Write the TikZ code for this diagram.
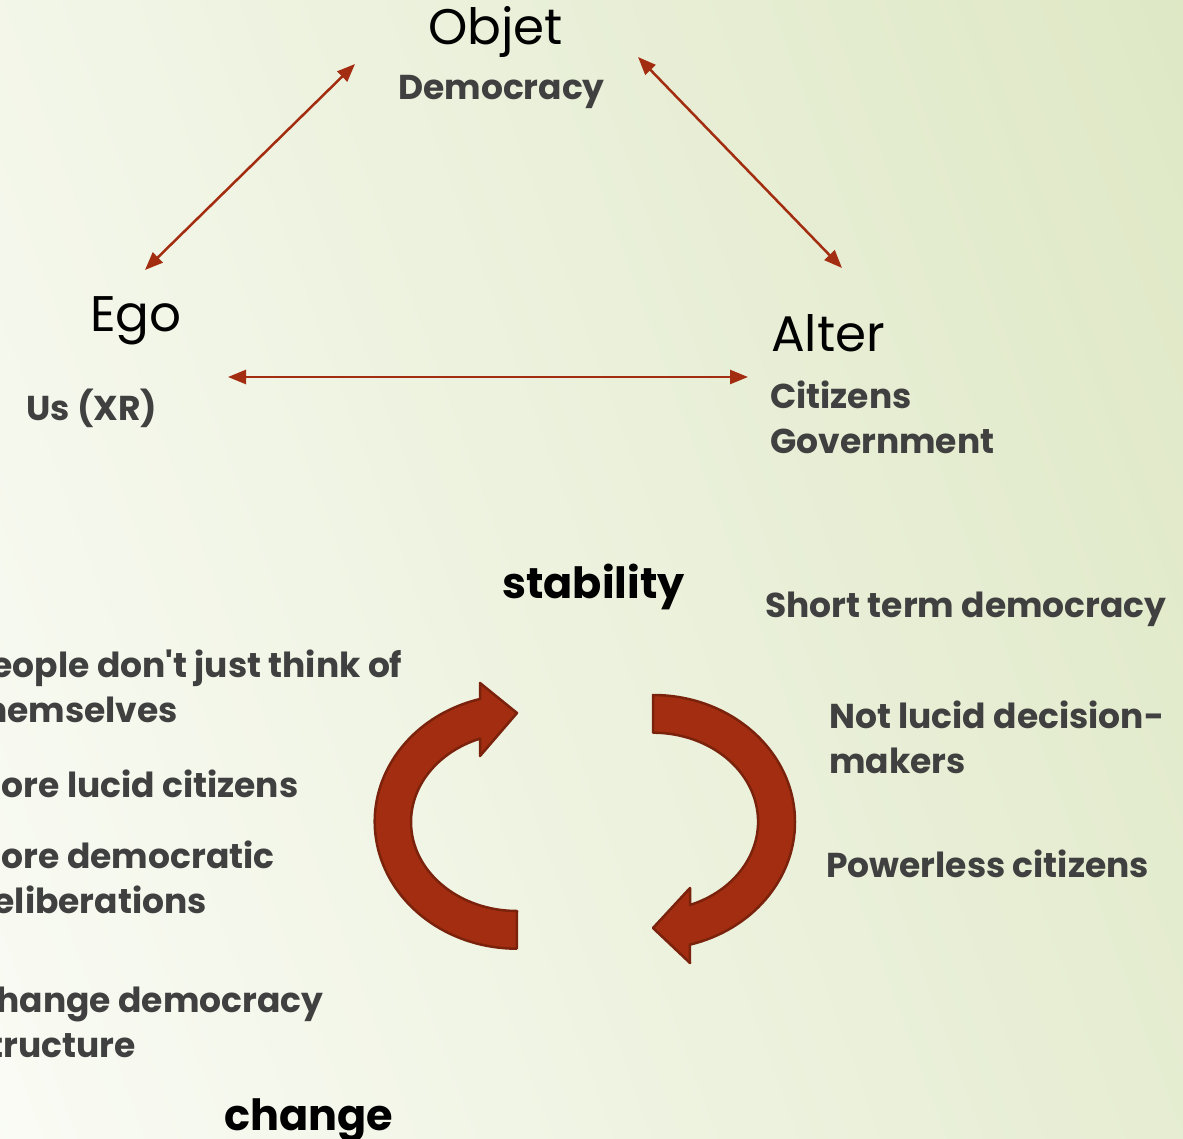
\documentclass[tikz,border=0pt]{standalone}
\usepackage{fontspec}
\setmainfont{Poppins}
\usetikzlibrary{arrows.meta}

\definecolor{rust}{HTML}{A32D10}
\definecolor{rustdark}{HTML}{7A220C}
\definecolor{txtgray}{HTML}{404040}
\definecolor{bgwhite}{HTML}{FCFDF9}
\definecolor{bggreen}{HTML}{DCE6C1}

\tikzset{
	head/.style={font=\fontsize{50}{56}\selectfont, inner sep=0, anchor=base west},
	sub/.style={font=\bfseries\fontsize{34.5}{45}\selectfont, text=txtgray, inner sep=0, anchor=base west, align=left},
	pole/.style={font=\bfseries\fontsize{43}{50}\selectfont, inner sep=0, anchor=base west},
	link/.style={rust, line width=2.5pt, {Triangle[length=18pt,width=14pt]}-{Triangle[length=18pt,width=14pt]}},
	turn/.style={fill=rust, draw=rustdark, line width=2.5pt, line join=round}
}

\begin{document}
\begin{tikzpicture}[x=1pt, y=-1pt]
		\useasboundingbox (0,0) rectangle (1183,1139);
		\clip (0,0) rectangle (1183,1139);
		\shade[left color=bgwhite, right color=bggreen, shading angle=110] (-300,-300) rectangle (1483,1439);
		
		% triangle
		\node[head] (objet) at (428,45) {Objet};
		\node[sub] (democracy) at (398,100) {Democracy};
		\node[head] (ego) at (90,332) {Ego};
		\node[sub] (us) at (26,420) {Us (XR)};
		\node[head] (alter) at (771,352) {Alter};
		\node[sub] (alterwho) at (770,453) {Citizens\\Government};
		
		\coordinate (ego-up) at (145,270);
		\coordinate (objet-left) at (355,64);
		\coordinate (objet-right) at (638,57);
		\coordinate (alter-up) at (842,268);
		\coordinate (ego-right) at (228,377);
		\coordinate (alter-left) at (748,377);
		
		\draw[link] (ego-up) -- (objet-left);
		\draw[link] (objet-right) -- (alter-up);
		\draw[link] (ego-right) -- (alter-left);
		
		% cycle
		\draw[turn] (480,699) arc[start angle=255, end angle=90, x radius=142, y radius=127] -- (517,911)
			arc[start angle=90, end angle=249.6, x radius=106, y radius=89] -- (480,756) -- (517,713) -- (480,683) -- cycle;
		\draw[turn] (653,695) arc[start angle=270, end angle=435, x radius=142, y radius=127] -- (690,963) -- (653,928) -- (690,888) -- (690,905)
			arc[start angle=429.4, end angle=270, x radius=105, y radius=89] -- cycle;
		
		\node[pole] (stability) at (502,598) {stability};
		\node[pole] (change) at (224,1130) {change};
		
		\node[sub] (shortterm) at (765,617) {Short term democracy};
		\node[sub] (notlucid) at (829,773) {Not lucid decision-\\makers};
		\node[sub] (powerless) at (826,877) {Powerless citizens};
		
		\node[sub] (selfless) at (-30,722) {People don\textquotesingle t just think of\\themselves};
		\node[sub] (lucid) at (-30,797) {More lucid citizens};
		\node[sub] (deliberate) at (-30,913) {More democratic\\deliberations};
		\node[sub] (structure) at (-30,1057) {Change democracy\\structure};
\end{tikzpicture}
\end{document}
